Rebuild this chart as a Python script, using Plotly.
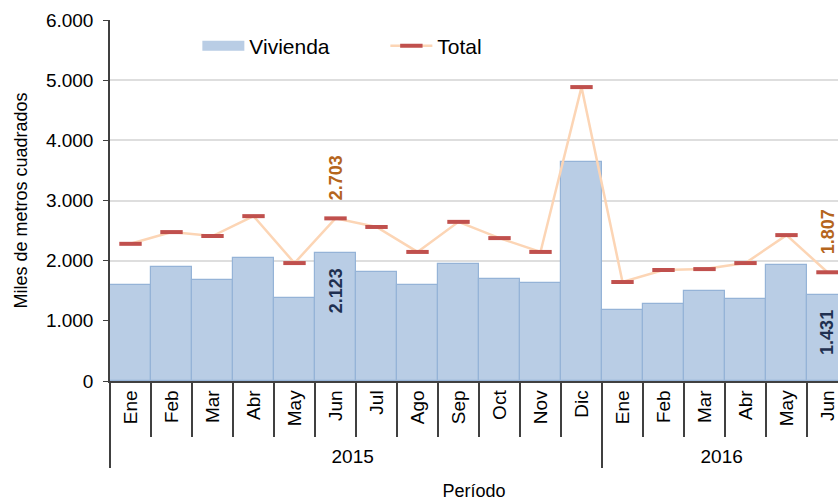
import plotly.graph_objects as go

months = ["Ene", "Feb", "Mar", "Abr", "May", "Jun", "Jul", "Ago", "Sep", "Oct", "Nov", "Dic",
          "Ene", "Feb", "Mar", "Abr", "May", "Jun"]
years = ["2015"] * 12 + ["2016"] * 6
vivienda = [1600, 1895, 1680, 2045, 1380, 2123, 1810, 1595, 1945, 1695, 1630, 3640,
            1180, 1280, 1495, 1365, 1930, 1431]
total = [2280, 2475, 2410, 2740, 1960, 2703, 2560, 2145, 2645, 2375, 2145, 4885,
         1645, 1845, 1860, 1960, 2425, 1807]
labeled = [5, 17]

def fmt(v):
    return f"{v:,}".replace(",", ".")

x = [years, months]
font = "Liberation Sans, Arial, sans-serif"
bar_fill = "#b9cde5"
bar_edge = "#95b3d7"

fig = go.Figure()
fig.add_trace(go.Bar(
    x=x, y=vivienda, name="Vivienda", showlegend=False,
    marker=dict(color=bar_fill, line=dict(color=bar_edge, width=1.2)),
))
# legend swatch for the bars (wide rectangle like the original)
fig.add_trace(go.Scatter(
    x=[None], y=[None], name="Vivienda", mode="lines",
    line=dict(color=bar_fill, width=14),
))
fig.add_trace(go.Scatter(
    x=x, y=total, name="Total", mode="lines+markers",
    line=dict(color="#fcd5b5", width=2.5),
    marker=dict(symbol="line-ew-open", size=16, color="#c0504d",
                line=dict(color="#c0504d", width=4)),
    cliponaxis=False,
))

for i in labeled:
    fig.add_annotation(x=i, y=total[i], xref="x", yref="y", text="<b>" + fmt(total[i]) + "</b>",
                       textangle=-90, showarrow=False, yanchor="bottom", yshift=16,
                       font=dict(family=font, size=18, color="#b5651d"))
    fig.add_annotation(x=i, y=vivienda[i], xref="x", yref="y", text="<b>" + fmt(vivienda[i]) + "</b>",
                       textangle=-90, showarrow=False, yanchor="top", yshift=-13,
                       font=dict(family=font, size=18, color="#1f3050"))

fig.update_layout(
    width=838, height=501,
    margin=dict(l=110, r=0, t=20, b=120),
    plot_bgcolor="white", paper_bgcolor="white",
    separators=",.",
    bargap=0,
    font=dict(family=font, size=19, color="#000000"),
    showlegend=True,
    legend=dict(orientation="h", x=0.12, y=0.928, xanchor="left", yanchor="middle",
                font=dict(size=21), bgcolor="rgba(0,0,0,0)", entrywidth=131,
                itemwidth=42),
    xaxis=dict(
        type="multicategory", range=[-0.5, 17.256], automargin=False,
        showline=True, linecolor="#404040", linewidth=1.5,
        ticks="outside", ticklen=54, tickcolor="#404040", tickwidth=1.5,
        tickangle=-90, showdividers=True, dividercolor="#404040", dividerwidth=1.5,
        tickfont=dict(size=19),
        title=dict(text="Período", font=dict(size=18), standoff=18),
    ),
    yaxis=dict(
        range=[0, 6000], dtick=1000, tickformat=",d", automargin=False,
        showgrid=True, gridcolor="#dedede", gridwidth=1.5,
        showline=True, linecolor="#404040", linewidth=1.5,
        ticks="outside", ticklen=5, tickcolor="#404040",
        ticklabelstandoff=6,
        tickfont=dict(size=19),
        title=dict(text="Miles de metros cuadrados", font=dict(size=18), standoff=14),
        zeroline=False,
    ),
)

fig.write_html(
    "out.html",
    config={"displayModeBar": False},
    post_script="document.body.style.margin='0';document.body.style.overflow='hidden';",
)
